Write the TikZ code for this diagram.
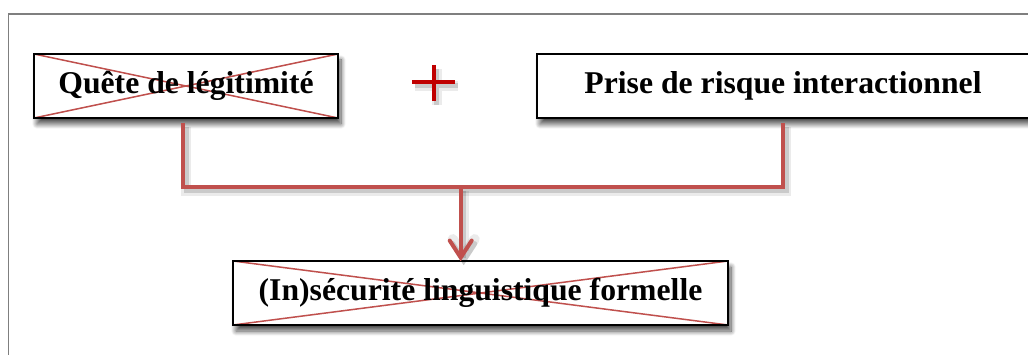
\documentclass[tikz,border=0pt]{standalone}
\usepackage{fontspec}
\setmainfont{Liberation Serif}
\usetikzlibrary{arrows.meta,shadows.blur}
\definecolor{linkred}{HTML}{C0504D}
\definecolor{plusred}{HTML}{C00000}
\definecolor{framegray}{HTML}{7F7F7F}
\tikzset{
    box/.style={draw=black, line width=1.5pt, fill=white, inner sep=0pt,
        minimum height=64pt, font=\fontsize{31.7}{38}\selectfont\bfseries,
        blur shadow={shadow xshift=3pt, shadow yshift=-6pt, shadow blur radius=5pt,
            shadow blur steps=10, shadow opacity=70}},
    crossed/.style={path picture={
        \draw[linkred, line width=1.5pt]
            (path picture bounding box.north west) -- (path picture bounding box.south east)
            (path picture bounding box.south west) -- (path picture bounding box.north east);}},
    lineshadow/.style={preaction={draw=black, opacity=0.08, line width=10pt,
            transform canvas={shift={(3pt,-4pt)}}},
        preaction={draw=black, opacity=0.14, line width=5pt,
            transform canvas={shift={(3pt,-4pt)}}}},
    link/.style={draw=linkred, line width=4pt, lineshadow},
}

\begin{document}
\begin{tikzpicture}[x=1pt, y=-1pt]
    \useasboundingbox (0,0) rectangle (1028,355);
    \draw[framegray, line width=1.2pt] (8.5,14) rectangle (1045,370);

    \node[box, crossed, minimum width=304pt] (quete) at (186,86) {Quête de légitimité};
    \node[box, minimum width=492pt] (prise) at (783,86) {Prise de risque interactionnel};
    \node[box, crossed, minimum width=495pt] (insecu) at (480.5,293) {(In)sécurité linguistique formelle};

    % le signe plus
    \node[minimum width=43pt, minimum height=36pt, inner sep=0pt] (plus) at (433.5,83) {};
    \draw[plusred, line width=4pt, lineshadow]
        (plus.west |- 0,82) -- (plus.east |- 0,82)
        (plus.north) -- (plus.south);

    \coordinate (join) at (460.7,187);
    \draw[link] ([xshift=-3pt, yshift=-4pt]quete.south) |- (join)
        -| ([yshift=-4pt]prise.south);
    \draw[link, -{Straight Barb[length=17pt, width=22pt, line cap=round]}]
        (join) -- ([yshift=-1pt]join |- insecu.north);
\end{tikzpicture}
\end{document}
